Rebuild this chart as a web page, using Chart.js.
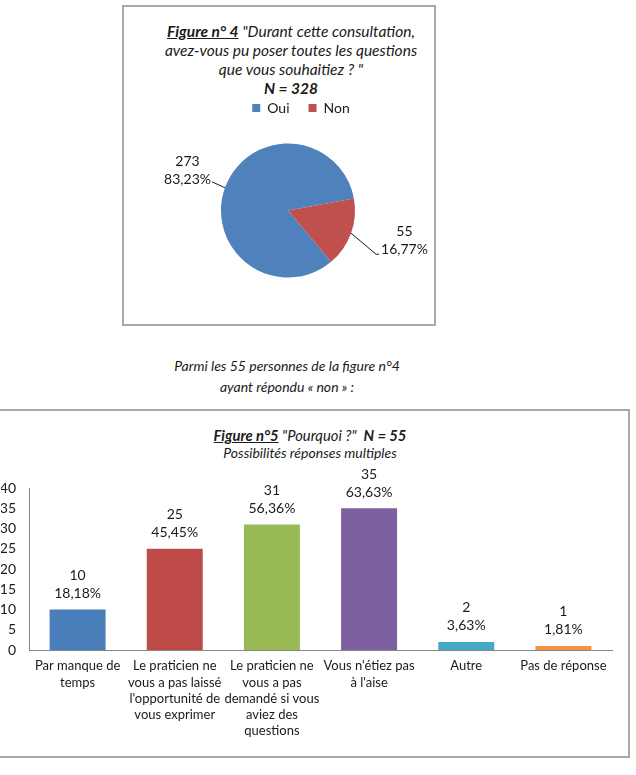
<!DOCTYPE html>
<html lang="fr">
<head>
<meta charset="utf-8">
<script src="https://cdn.jsdelivr.net/npm/chart.js@4.4.1/dist/chart.umd.min.js"></script>
<style>
  body { margin: 0; background: #fff; font-family: Lato, sans-serif; color: #1a1a1a; }
  #page { position: relative; width: 636px; height: 775px; overflow: hidden; }
  .box { position: absolute; border: 2px solid #a8a8a8; box-sizing: border-box; }
  #box1 { left: 122px; top: 5px; width: 314px; height: 321px; }
  #box2 { left: -4px; top: 409px; width: 634px; height: 349px; }
  .txt { position: absolute; text-align: center; font-style: italic; white-space: nowrap; }
  #title1 { left: 141px; width: 300px; top: 22px; font-size: 15.5px; line-height: 19px; }
  #note { left: 137px; width: 300px; top: 355px; font-size: 14px; line-height: 21px; }
  #title2 { left: 160px; width: 300px; top: 427px; font-size: 14px; line-height: 17px; }
  #title2 .l1 { font-size: 14.8px; }
  canvas { position: absolute; }
  #pie { left: 124px; top: 82px; }
  #bar { left: 0px; top: 462px; }
</style>
</head>
<body>
<div id="page">
  <div class="box" id="box1"></div>
  <div class="txt" id="title1"><b><u>Figure n° 4</u></b> "Durant cette consultation,<br>avez-vous pu poser toutes les questions<br>que vous souhaitiez ? "<br><b>N = 328</b></div>
  <canvas id="pie" width="309" height="214"></canvas>

  <div class="txt" id="note">Parmi les 55 personnes de la figure n°4<br>ayant répondu « non » :</div>

  <div class="box" id="box2"></div>
  <div class="txt" id="title2"><span class="l1"><b><u>Figure n°5</u></b> "Pourquoi ?"&nbsp; <b>N = 55</b></span><br>Possibilités réponses multiples</div>
  <canvas id="bar" width="626" height="293"></canvas>
</div>

<script>
// figure 4
const pieLabels = ['Oui', 'Non'];
const pieValues = [273, 55];
const pieShares = ['83,23%', '16,77%'];
const pieColors = ['#4F81BD', '#C0504D'];

// figure 5
const barLabels = [
  ['Par manque de', 'temps'],
  ['Le praticien ne', 'vous a pas laissé', "l'opportunité de", 'vous exprimer'],
  ['Le praticien ne', 'vous a pas', 'demandé si vous', 'aviez des', 'questions'],
  ["Vous n'étiez pas", "à l'aise"],
  ['Autre'],
  ['Pas de réponse']
];
const barValues = [10, 25, 31, 35, 2, 1];
const barShares = ['18,18%', '45,45%', '56,36%', '63,63%', '3,63%', '1,81%'];
const barColors = ['#4A7EBB', '#BE4B48', '#98B954', '#7D60A0', '#46AAC5', '#F69240'];
const yTicks = [0, 5, 10, 15, 20, 25, 30, 35, 40];

const textColor = '#1a1a1a';
const font = 'Lato';

// labels outside the pie with a short leader line
const pieLabelPlugin = {
  id: 'pieLabelPlugin',
  afterDatasetsDraw(chart) {
    const ctx = chart.ctx;
    const meta = chart.getDatasetMeta(0);
    ctx.save();
    ctx.font = '14px ' + font;
    ctx.fillStyle = textColor;
    ctx.strokeStyle = textColor;
    ctx.lineWidth = 1;
    ctx.textBaseline = 'middle';
    meta.data.forEach((arc, i) => {
      const p = arc.getProps(['x', 'y', 'startAngle', 'endAngle', 'outerRadius'], true);
      const mid = (p.startAngle + p.endAngle) / 2;
      const ex = p.x + Math.cos(mid) * p.outerRadius;
      const ey = p.y + Math.sin(mid) * p.outerRadius;
      const w2 = ctx.measureText(pieShares[i]).width;
      ctx.beginPath();
      if (Math.cos(mid) < 0) {
        const lx = ex - 13, ly = ey - 6;
        ctx.moveTo(ex, ey);
        ctx.lineTo(lx, ly);
        ctx.stroke();
        ctx.textAlign = 'right';
        ctx.fillText(pieShares[i], lx - 1, ly - 2);
        ctx.textAlign = 'center';
        ctx.fillText(String(pieValues[i]), lx - 1 - w2 / 2, ly - 20);
      } else {
        const bx = ex + 25, by = ey + 21;
        ctx.moveTo(ex, ey);
        ctx.lineTo(bx, by);
        ctx.lineTo(bx + 3, by);
        ctx.stroke();
        ctx.textAlign = 'left';
        ctx.fillText(pieShares[i], bx + 5, by - 5);
        ctx.textAlign = 'center';
        ctx.fillText(String(pieValues[i]), bx + 5 + w2 / 2, by - 23);
      }
    });
    ctx.restore();
  }
};

// the legend sits a little right of the pie in the original
const legendShift = {
  id: 'legendShift',
  afterLayout(chart) {
    chart.legend.left += 13;
    chart.legend.right += 13;
  }
};

new Chart(document.getElementById('pie'), {
  type: 'pie',
  data: {
    labels: pieLabels,
    datasets: [{
      data: pieValues,
      backgroundColor: pieColors,
      borderWidth: 0,
      radius: 67
    }]
  },
  options: {
    responsive: false,
    animation: false,
    rotation: 140,
    layout: { padding: { left: 19, right: 0, top: 0, bottom: 0 } },
    plugins: {
      legend: {
        position: 'top',
        labels: {
          boxWidth: 8,
          boxHeight: 8,
          padding: 19,
          color: textColor,
          font: { family: font, size: 14 }
        }
      },
      tooltip: { enabled: false }
    }
  },
  plugins: [pieLabelPlugin, legendShift]
});

// two-line value labels above each bar
const barLabelPlugin = {
  id: 'barLabelPlugin',
  afterDatasetsDraw(chart) {
    const ctx = chart.ctx;
    const meta = chart.getDatasetMeta(0);
    ctx.save();
    ctx.font = '14px ' + font;
    ctx.fillStyle = textColor;
    ctx.textAlign = 'center';
    ctx.textBaseline = 'middle';
    meta.data.forEach((bar, i) => {
      ctx.fillText(String(barValues[i]), bar.x, bar.y - 34);
      ctx.fillText(barShares[i], bar.x, bar.y - 16);
    });
    ctx.restore();
  }
};

new Chart(document.getElementById('bar'), {
  type: 'bar',
  data: {
    labels: barLabels,
    datasets: [{
      data: barValues,
      backgroundColor: barColors,
      borderWidth: 0,
      categoryPercentage: 1,
      barPercentage: 0.576
    }]
  },
  options: {
    responsive: false,
    animation: false,
    layout: { padding: { left: 1, right: 14, top: 26, bottom: 0 } },
    plugins: {
      legend: { display: false },
      tooltip: { enabled: false }
    },
    scales: {
      y: {
        min: yTicks[0],
        max: yTicks[yTicks.length - 1],
        afterFit(scale) { scale.width = 28; },
        afterBuildTicks(scale) { scale.ticks = yTicks.map(v => ({ value: v })); },
        ticks: {
          padding: 13,
          color: textColor,
          font: { family: font, size: 14 }
        },
        grid: { display: false, drawTicks: false },
        border: { display: true, color: '#868686' }
      },
      x: {
        afterFit(scale) { scale.height = 105; },
        ticks: {
          padding: 8,
          maxRotation: 0,
          autoSkip: false,
          color: textColor,
          font: { family: font, size: 13, lineHeight: 1.25 }
        },
        grid: { display: false, drawTicks: false },
        border: { display: true, color: '#868686' }
      }
    }
  },
  plugins: [barLabelPlugin]
});
</script>
</body>
</html>
